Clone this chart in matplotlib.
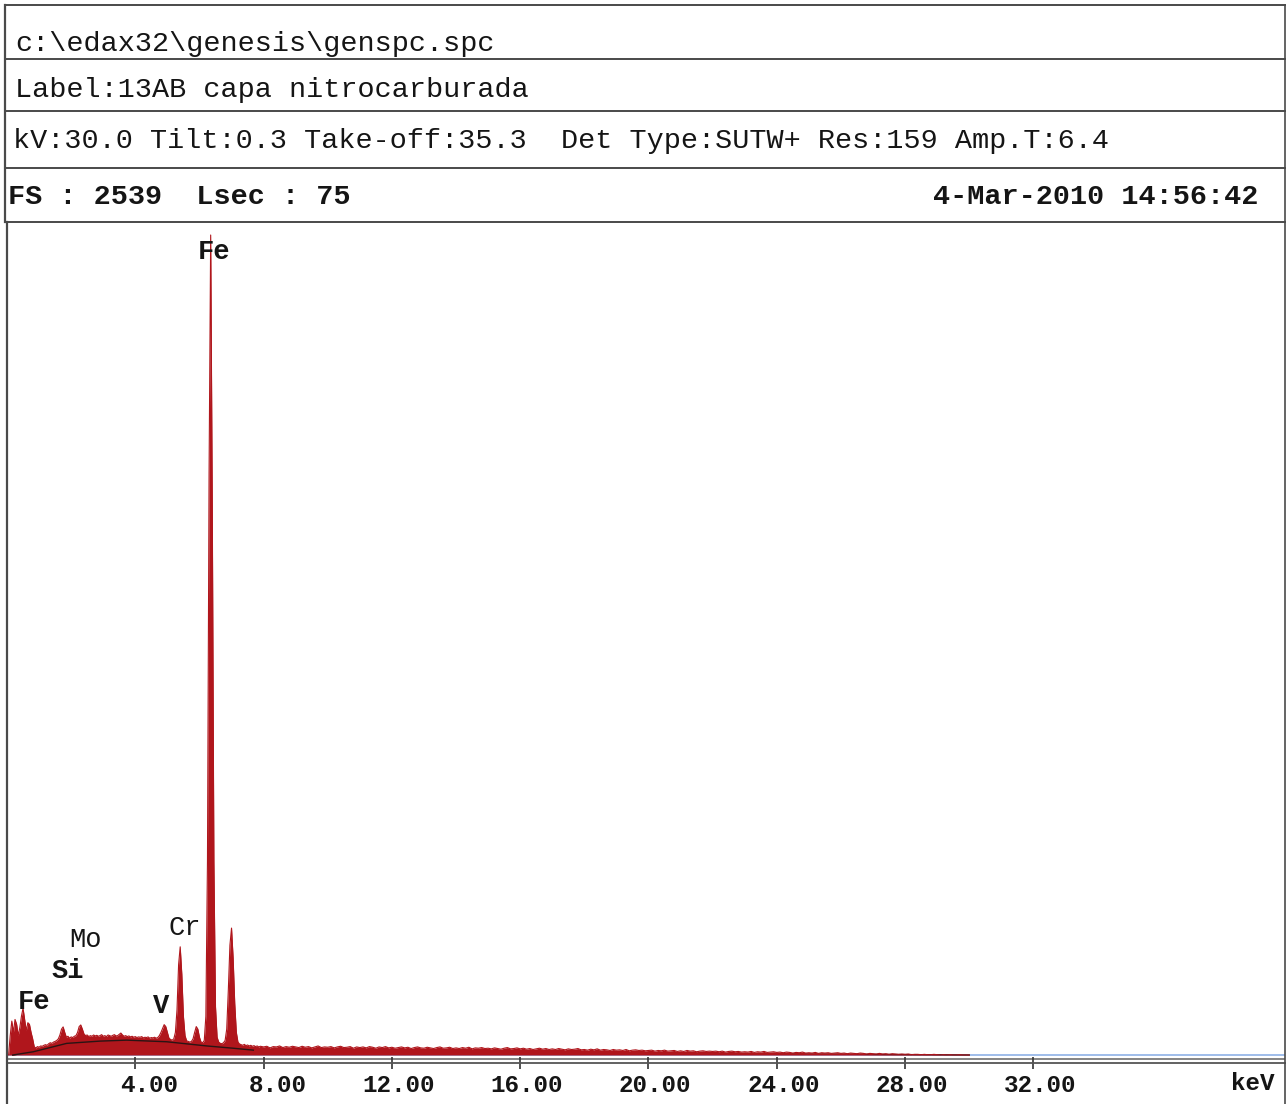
import numpy as np
import matplotlib
matplotlib.use("Agg")
import matplotlib.pyplot as plt
from matplotlib.lines import Line2D
from matplotlib.transforms import ScaledTranslation

# ---------------- data ----------------
header_lines = [
    "c:\\edax32\\genesis\\genspc.spc",
    "Label:13AB capa nitrocarburada",
    "kV:30.0 Tilt:0.3 Take-off:35.3  Det Type:SUTW+ Res:159 Amp.T:6.4",
    "FS : 2539  Lsec : 75",
]
date_text = "4-Mar-2010 14:56:42"

# low-energy part of the spectrum, 0.05 keV channels, 0.00 .. 8.00 keV
low_counts = [
    0, 0, 60, 105, 70, 110, 95, 60, 85, 120,            # 0.00-0.45
    145, 110, 75, 100, 95, 70, 50, 25, 22, 26,           # 0.50-0.95
    24, 28, 27, 30, 32, 30, 35, 38, 36, 40,              # 1.00-1.45
    42, 45, 50, 62, 80, 87, 70, 55, 58, 52,              # 1.50-1.95
    56, 54, 58, 60, 70, 88, 93, 80, 65, 60,              # 2.00-2.45
    62, 57, 60, 58, 62, 59, 61, 58, 60, 63,              # 2.50-2.95
    58, 60, 57, 62, 60, 58, 61, 63, 59, 60,              # 3.00-3.45
    64, 68, 62, 58, 60, 57, 59, 56, 58, 55,              # 3.50-3.95
    57, 54, 56, 55, 57, 53, 55, 54, 56, 52,              # 4.00-4.45
    54, 53, 55, 52, 54, 60, 70, 82, 94, 88,              # 4.50-4.95
    70, 52, 48, 46, 50, 70, 140, 280, 335, 250,          # 5.00-5.45
    120, 60, 44, 42, 40, 42, 50, 70, 88, 80,             # 5.50-5.95
    55, 40, 38, 45, 120, 600, 1800, 2539, 1700, 600,     # 6.00-6.45
    150, 55, 40, 36, 35, 38, 45, 80, 200, 340,           # 6.50-6.95
    393, 300, 160, 70, 40, 34, 32, 30, 33, 29,           # 7.00-7.45
    31, 28, 30, 27, 29, 26, 28, 25, 27, 26,              # 7.50-7.95
    25,                                                  # 8.00
]
low_step_kev = 0.05

# high-energy part, 0.1 keV channels, 8.1 .. 30.0 keV
high_counts = [
    27, 22, 26, 25, 28, 23, 26, 24, 27,
    25, 23, 27, 24, 26, 22, 25, 28, 23, 25,
    24, 26, 22, 25, 27, 23, 24, 26, 21, 25,
    23, 25, 22, 26, 24, 21, 25, 23, 26, 22,
    24, 21, 23, 25, 22, 24, 20, 23, 25, 22,
    21, 24, 22, 20, 23, 25, 21, 22, 24, 20,
    22, 20, 23, 21, 24, 19, 22, 21, 23, 20,
    21, 19, 22, 20, 18, 21, 23, 19, 20, 22,
    19, 21, 18, 20, 17, 19, 21, 18, 20, 17,
    19, 17, 20, 18, 16, 19, 17, 18, 20, 16,
    17, 15, 18, 16, 19, 15, 17, 16, 14, 17,
    15, 16, 14, 17, 13, 15, 16, 14, 15, 13,
    14, 15, 12, 14, 13, 15, 12, 13, 14, 11,
    13, 11, 14, 12, 13, 10, 12, 13, 11, 12,
    11, 12, 10, 12, 9, 11, 12, 10, 11, 9,
    10, 9, 11, 8, 10, 9, 11, 8, 9, 10,
    8, 9, 7, 9, 8, 6, 8, 7, 9, 6,
    7, 6, 8, 5, 7, 6, 7, 5, 6, 7,
    5, 6, 4, 6, 5, 4, 6, 5, 3, 5,
    4, 3, 5, 3, 4, 2, 4, 3, 2, 3,
    2, 3, 1, 2, 2, 1, 2, 1, 1, 2,
    1, 0, 1, 0, 1, 0, 0, 1, 0, 0,
    0,
]
high_step_kev = 0.1

# fitted background line
bg_kev = [0.18, 0.82, 1.86, 2.9, 3.73, 4.98, 6.23, 7.05, 7.68, 10.0, 15.0, 20.0, 25.0, 30.0]
bg_counts = [0, 10, 36, 43, 46, 41, 28, 21, 15, 12, 9, 6, 3, 0]

# element labels (name, keV, counts, bold)
elements = ["Fe", "Fe", "Si", "Mo", "V", "Cr"]
element_kev = [6.46, 0.85, 1.88, 2.44, 4.81, 5.55]
element_counts = [2486, 164, 260, 356, 152, 393]
element_bold = [True, True, True, False, True, False]

x_ticks = [4, 8, 12, 16, 20, 24, 28, 32]
x_tick_labels = ["4.00", "8.00", "12.00", "16.00", "20.00", "24.00", "28.00", "32.00"]

# ---------------- figure ----------------
W, H = 1288, 1104
fig = plt.figure(figsize=(W / 100, H / 100), dpi=100)
fig.patch.set_facecolor("white")

def fx(x):
    return x / W

def fy(y):
    return 1 - y / H

MONO = "Liberation Mono"
INK = "#151515"
FRAME = "#4a4a4a"
RED = "#b0161c"

# header frame lines
for yy in [5, 59, 111, 168, 222]:
    fig.add_artist(Line2D([fx(5), fx(1285)], [fy(yy), fy(yy)], color=FRAME, lw=1.4))
fig.add_artist(Line2D([fx(5), fx(5)], [fy(5), fy(222)], color=FRAME, lw=1.6))
fig.add_artist(Line2D([fx(1285), fx(1285)], [fy(5), fy(1104)], color=FRAME, lw=1.2))
fig.add_artist(Line2D([fx(7), fx(7)], [fy(222), fy(1104)], color=FRAME, lw=1.6))

header_x = [15, 15, 13, 8]
header_base = [51, 97, 148, 204]
header_weight = ["normal", "normal", "normal", "bold"]
for txt, x0, yb, wgt in zip(header_lines, header_x, header_base, header_weight):
    fig.text(fx(x0), fy(yb), txt, family=MONO, fontsize=20.5, weight=wgt,
             color=INK, ha="left", va="baseline")
fig.text(fx(1258), fy(204), date_text, family=MONO, fontsize=20.5, weight="bold",
         color=INK, ha="right", va="baseline")

# plot axes
px_per_count = 820 / 2539.0
ax_top, ax_bot = 222, 1063
ax = fig.add_axes([fx(7), fy(ax_bot), fx(1285) - fx(7), (ax_bot - ax_top) / H])
ax.set_facecolor("none")
ax.set_xlim(0, (1285 - 6.8) / 32.08)
ax.set_ylim(-(ax_bot - 1055) / px_per_count, (1055 - ax_top) / px_per_count)

low_e = np.arange(len(low_counts)) * low_step_kev
high_e = 8.0 + (np.arange(len(high_counts)) + 1) * high_step_kev
energy = np.concatenate([low_e, high_e])
counts = np.concatenate([np.array(low_counts, float), np.array(high_counts, float)])

ax.axhline(0, color="#8fb2e6", lw=1.2, zorder=1)
bg_e = np.array(bg_kev)
bg_c = np.array(bg_counts, float)
ax.plot(bg_e, bg_c, color="#2a1414", lw=1.0, zorder=1.5)
ax.fill_between(energy, counts, 0, color=RED, lw=0, zorder=2)
ax.plot(energy, counts, color=RED, lw=0.8, zorder=2)
front = bg_e <= 8.0
ax.plot(bg_e[front], bg_c[front], color="#2a1414", lw=1.0, zorder=3)

# second axis line
ax.axhline(-(1059 - 1055) / px_per_count, color="#707070", lw=1.2, zorder=1)

for s in ["top", "right", "left"]:
    ax.spines[s].set_visible(False)
ax.spines["bottom"].set_color("#555555")
ax.spines["bottom"].set_linewidth(1.3)
ax.set_yticks([])
ax.set_xticks(x_ticks)
ax.set_xticklabels(x_tick_labels, family=MONO, fontsize=17.5, weight="bold", color=INK)
ax.tick_params(axis="x", direction="inout", length=9, width=1.2, color="#333333", pad=3.5)
offset = ScaledTranslation(43 / 100, 0, fig.dpi_scale_trans)
for lab in ax.get_xticklabels():
    lab.set_horizontalalignment("right")
    lab.set_transform(lab.get_transform() + offset)

fig.text(fx(1253), fy(1084), "keV", family=MONO, fontsize=17.5, weight="bold",
         color=INK, ha="center", va="center")

for name, ek, ck, b in zip(elements, element_kev, element_counts, element_bold):
    ax.text(ek, ck, name, family=MONO, fontsize=19.5, weight="bold" if b else "normal",
            color=INK, ha="center", va="center", zorder=4)

fig.savefig("out.png", dpi=100, facecolor="white")
